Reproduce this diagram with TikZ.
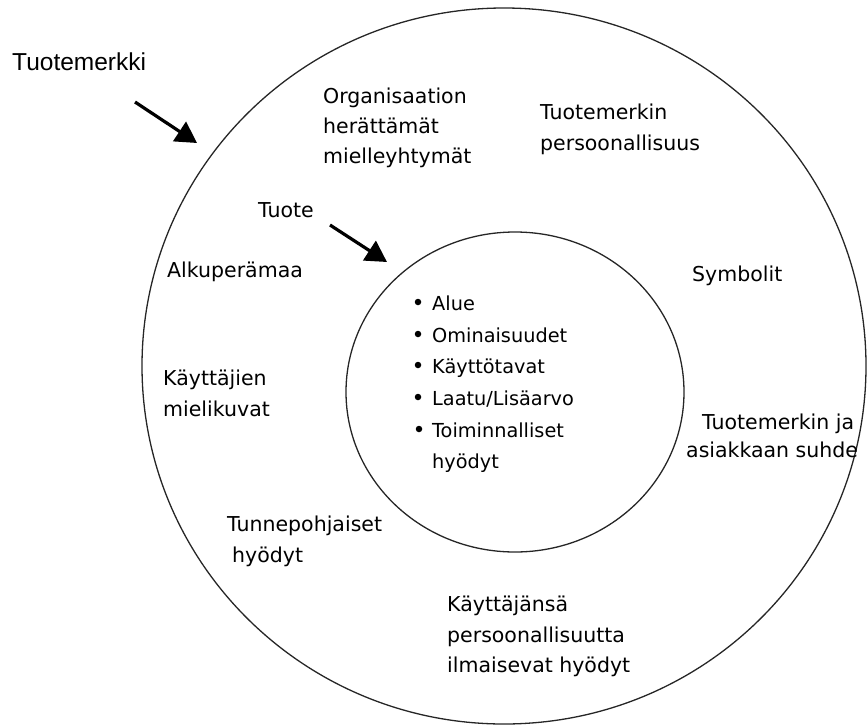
\documentclass[tikz,border=0pt]{standalone}
\usepackage{fontspec}
\setmainfont{DejaVu Sans}
\newfontfamily\arialfont{Liberation Sans}
\usetikzlibrary{arrows.meta,shapes.geometric}
\begin{document}
\begin{tikzpicture}[x=1pt,y=-1pt,
  lbl/.style={anchor=base west, inner sep=0pt, font=\fontsize{20.5}{30}\selectfont},
  itm/.style={anchor=base west, inner sep=0pt, font=\fontsize{19.3}{30}\selectfont},
  ring/.style={ellipse, draw=black!85, line width=1.3pt, inner sep=0pt},
  dotb/.style={circle, fill=black, inner sep=0pt, minimum size=6.5pt},
  pointer/.style={line width=3.2pt, -{Triangle[length=21pt,width=23pt]}}]
\useasboundingbox (0,0) rectangle (867,726);
% circles
\node[ring, minimum width=724pt, minimum height=716pt] (outer) at (504,366) {};
\node[ring, minimum width=338pt, minimum height=320pt] (inner) at (515,392) {};
% title labels
\node[anchor=base west, inner sep=0pt, font=\arialfont\fontsize{24.5}{30}\selectfont] (brand) at (12,70) {Tuotemerkki};
\node[lbl] (tuote) at (258,217) {Tuote};
% arrows
\coordinate (a1s) at (135,102);
\coordinate (a1e) at (197,143);
\draw[pointer] (a1s) -- (a1e);
\coordinate (a2s) at (330,225);
\coordinate (a2e) at (387,262);
\draw[pointer] (a2s) -- (a2e);
% outer ring texts
\node[lbl] (org1) at (323,103) {Organisaation};
\node[lbl] (org2) at (323,133) {herättämät};
\node[lbl] (org3) at (323,163) {mielleyhtymät};
\node[lbl] (pers1) at (540,119) {Tuotemerkin};
\node[lbl] (pers2) at (540,150) {persoonallisuus};
\node[lbl] (alku) at (167,277) {Alkuperämaa};
\node[lbl] (symb) at (692,281) {Symbolit};
\node[lbl] (kay1) at (163,385) {Käyttäjien};
\node[lbl] (kay2) at (163,416) {mielikuvat};
\node[lbl] (suh1) at (702,429) {Tuotemerkin ja};
\node[lbl] (suh2) at (686,457) {asiakkaan suhde};
\node[lbl] (tun1) at (227,531) {Tunnepohjaiset};
\node[lbl] (tun2) at (232,562) {hyödyt};
\node[lbl] (ilm1) at (447,611) {Käyttäjänsä};
\node[lbl] (ilm2) at (447,642) {persoonallisuutta};
\node[lbl] (ilm3) at (447,672) {ilmaisevat hyödyt};
% inner list
\node[dotb] (b1) at (418,302) {};
\node[dotb] (b2) at (418,334) {};
\node[dotb] (b3) at (418,365) {};
\node[dotb] (b4) at (418,397) {};
\node[dotb] (b5) at (419,429) {};
\node[itm] (i1) at (432,310) {Alue};
\node[itm] (i2) at (432,342) {Ominaisuudet};
\node[itm] (i3) at (432,373) {Käyttötavat};
\node[itm] (i4) at (432,405) {Laatu/Lisäarvo};
\node[itm] (i5) at (432,437) {Toiminnalliset};
\node[itm] (i6) at (432,468) {hyödyt};
\end{tikzpicture}
\end{document}
